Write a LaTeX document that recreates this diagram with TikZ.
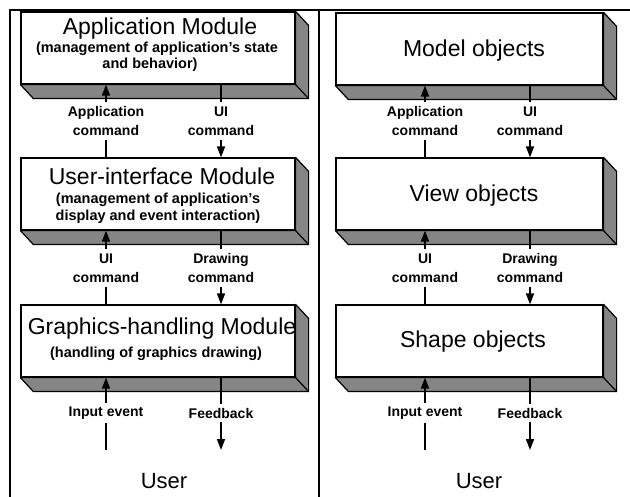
\documentclass[tikz,border=0pt]{standalone}
\usepackage{fontspec}
\setmainfont{Liberation Sans}
\usetikzlibrary{arrows.meta,calc}
\begin{document}
\begin{tikzpicture}[x=1pt,y=-1pt,
  frame/.style={line width=1.8pt},
  front/.style={draw, line width=1.2pt, fill=white, minimum width=274pt,
    minimum height=72pt, inner sep=0pt},
  rfront/.style={front, minimum width=267pt},
  side/.style={draw, line width=1.2pt, fill=black!48, line join=round},
  title/.style={font=\fontsize{23}{27}\selectfont, inner sep=0pt, anchor=base},
  sub/.style={font=\bfseries\fontsize{14.5}{16}\selectfont, inner sep=0pt, anchor=base},
  lab/.style={font=\bfseries\fontsize{14}{19}\selectfont, align=center, inner sep=4pt},
  usr/.style={font=\fontsize{22}{26}\selectfont, inner sep=0pt},
  flow/.style={line width=1.6pt},
  tip/.style={flow, -{Triangle[length=11pt,width=8pt]}}]
\useasboundingbox (0,0) rectangle (630,497);

% outer frame and column divider
\draw[frame] (630,10) -- (10,10) -- (10,497);
\draw[frame] (319,10) -- (319,497);

% front faces of the module blocks
\node[front] (a1) at (158,48) {};
\node[front] (a2) at (158,194) {};
\node[front] (a3) at (158,341) {};
\node[rfront] (m1) at (469.5,49) {};
\node[rfront] (m2) at (469.5,194) {};
\node[rfront] (m3) at (469.5,341) {};

% extruded bottom and right faces
\foreach \n in {a1,a2,a3,m1,m2,m3}{
  \filldraw[side] (\n.south west) -- ++(13,14) -| ($(\n.north east)+(13,14)$)
    -- (\n.north east) -- (\n.south east) -- cycle;
  \draw[line width=1.2pt] (\n.south east) -- ++(13,14);
}

% left column texts
\node[title] (a1t) at (160,34.5) {Application Module};
\node[sub] (a1s1) at (157,52.5) {(management of application's state};
\node[sub] (a1s2) at (150,69) {and behavior)};
\node[title] (a2t) at (162,185) {User-interface Module};
\node[sub] (a2s1) at (158,204) {(management of application's};
\node[sub] (a2s2) at (158,220.5) {display and event interaction)};
\node[title] (a3t) at (162,335) {Graphics-handling Module};
\node[sub] (a3s) at (156,358) {(handling of graphics drawing)};

% right column texts
\node[title] (m1t) at (474,57) {Model objects};
\node[title] (m2t) at (474,202) {View objects};
\node[title] (m3t) at (473,348) {Shape objects};

% connector labels
\node[lab] (l1a) at (106,121) {Application\\command};
\node[lab] (l1b) at (221,121) {UI\\command};
\node[lab] (l2a) at (106,268) {UI\\command};
\node[lab] (l2b) at (221,268) {Drawing\\command};
\node[lab] (l3a) at (106,413) {Input event};
\node[lab] (l3b) at (221,413) {Feedback};
\node[lab] (r1a) at (425,121) {Application\\command};
\node[lab] (r1b) at (530,121) {UI\\command};
\node[lab] (r2a) at (425,268) {UI\\command};
\node[lab] (r2b) at (530,268) {Drawing\\command};
\node[lab] (r3a) at (425,413) {Input event};
\node[lab] (r3b) at (530,413) {Feedback};

\node[usr] (u1) at (164,481) {User};
\node[usr] (u2) at (479,481) {User};
\coordinate (e1a) at (106,450);
\coordinate (e1b) at (221,450);
\coordinate (e2a) at (425,450);
\coordinate (e2b) at (530,450);

% left column connectors
\draw[flow] (l1a.south) -- (a2.north -| l1a.south);
\draw[tip] (l1a.north) -- (a1.south -| l1a.north);
\draw[flow] (a1.south -| l1b.north) -- (l1b.north);
\draw[tip] (l1b.south) -- (a2.north -| l1b.south);
\draw[flow] (l2a.south) -- (a3.north -| l2a.south);
\draw[tip] (l2a.north) -- (a2.south -| l2a.north);
\draw[flow] (a2.south -| l2b.north) -- (l2b.north);
\draw[tip] (l2b.south) -- (a3.north -| l2b.south);
\draw[flow] (e1a) -- (l3a.south);
\draw[tip] (l3a.north) -- (a3.south -| l3a.north);
\draw[flow] (a3.south -| l3b.north) -- (l3b.north);
\draw[tip] (l3b.south) -- (e1b);

% right column connectors
\draw[flow] (r1a.south) -- (m2.north -| r1a.south);
\draw[tip] (r1a.north) -- (m1.south -| r1a.north);
\draw[flow] (m1.south -| r1b.north) -- (r1b.north);
\draw[tip] (r1b.south) -- (m2.north -| r1b.south);
\draw[flow] (r2a.south) -- (m3.north -| r2a.south);
\draw[tip] (r2a.north) -- (m2.south -| r2a.north);
\draw[flow] (m2.south -| r2b.north) -- (r2b.north);
\draw[tip] (r2b.south) -- (m3.north -| r2b.south);
\draw[flow] (e2a) -- (r3a.south);
\draw[tip] (r3a.north) -- (m3.south -| r3a.north);
\draw[flow] (m3.south -| r3b.north) -- (r3b.north);
\draw[tip] (r3b.south) -- (e2b);
\end{tikzpicture}
\end{document}
